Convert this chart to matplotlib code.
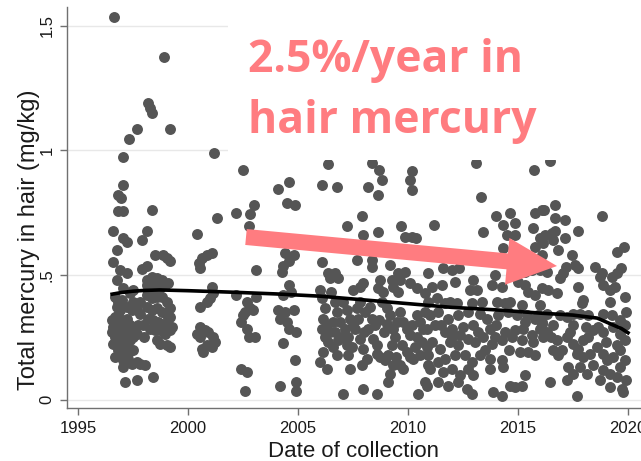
import matplotlib
matplotlib.use("Agg")
import matplotlib.pyplot as plt
from matplotlib.patches import Rectangle, FancyArrow
from matplotlib.transforms import IdentityTransform

# ------------- data (year, Hg mg/kg) -------------
pts_1996_99 = [
    (1996.64, 1.536), (1998.90, 1.375), (1998.20, 1.190), (1998.25, 1.170), (1998.35, 1.150),
    (1997.70, 1.085), (1999.20, 1.085), (1997.30, 1.045), (1997.05, 0.975), (1997.05, 0.860),
    (1996.80, 0.820), (1996.95, 0.810), (1996.80, 0.755), (1997.05, 0.755), (1998.35, 0.760),
    (1996.61, 0.675), (1997.06, 0.648), (1997.21, 0.634), (1997.89, 0.641), (1998.12, 0.675),
    (1996.76, 0.601), (1996.61, 0.554), (1996.91, 0.520), (1997.21, 0.509), (1997.89, 0.523),
    (1998.12, 0.536), (1998.50, 0.581), (1998.88, 0.581), (1999.03, 0.567), (1999.18, 0.558),
    (1996.76, 0.480), (1998.35, 0.493), (1998.58, 0.487), (1998.80, 0.480), (1999.10, 0.466),
    (1997.06, 0.446), (1997.36, 0.426), (1997.52, 0.440), (1998.12, 0.460), (1998.20, 0.426),
    (1998.42, 0.413),
    (1996.53, 0.319), (1996.68, 0.332), (1996.83, 0.339), (1996.61, 0.292), (1996.76, 0.278),
    (1996.68, 0.251), (1996.61, 0.224), (1996.76, 0.238), (1996.91, 0.265), (1996.98, 0.292),
    (1997.06, 0.312), (1997.21, 0.325), (1997.14, 0.278), (1997.29, 0.265), (1997.44, 0.278),
    (1997.59, 0.292), (1997.74, 0.298), (1997.67, 0.265), (1997.52, 0.251), (1997.36, 0.238),
    (1997.21, 0.218), (1997.06, 0.211), (1996.91, 0.218), (1996.68, 0.171), (1996.91, 0.177),
    (1997.06, 0.157), (1997.29, 0.164), (1997.44, 0.144), (1997.67, 0.151), (1997.82, 0.144),
    (1998.05, 0.137), (1997.06, 0.130), (1997.14, 0.070), (1997.67, 0.077), (1998.42, 0.090),
    (1998.12, 0.480), (1998.58, 0.466), (1998.27, 0.453), (1998.50, 0.440), (1998.73, 0.446),
    (1998.95, 0.460), (1998.12, 0.419), (1998.35, 0.406), (1998.58, 0.413), (1998.80, 0.413),
    (1999.03, 0.392), (1999.18, 0.366), (1998.12, 0.372), (1998.35, 0.359), (1998.58, 0.366),
    (1998.80, 0.352), (1999.03, 0.339), (1999.18, 0.332), (1998.20, 0.325), (1998.42, 0.319),
    (1998.65, 0.312), (1998.88, 0.305), (1999.10, 0.298), (1999.26, 0.292), (1998.27, 0.285),
    (1998.50, 0.278), (1998.73, 0.278), (1998.95, 0.265), (1999.18, 0.278), (1998.58, 0.238),
    (1998.73, 0.224), (1999.03, 0.218), (1999.18, 0.211), (1997.82, 0.345), (1997.67, 0.359),
    (1997.44, 0.359), (1997.21, 0.372), (1997.52, 0.392), (1997.82, 0.392), (1996.68, 0.413),
    (1996.83, 0.392), (1996.98, 0.399), (1996.76, 0.372), (1996.91, 0.359),
    (1996.55, 0.270), (1996.85, 0.300), (1997.00, 0.240), (1997.35, 0.300), (1997.50, 0.200),
    (1996.80, 0.200), (1997.30, 0.190), (1997.95, 0.300), (1998.00, 0.250),
]

pts_2000_05 = [
    (2001.20, 0.990), (2001.30, 0.730), (2000.40, 0.665),
    (2000.50, 0.547), (2000.62, 0.567), (2000.85, 0.581), (2001.10, 0.590), (2000.55, 0.527),
    (2001.08, 0.453), (2001.15, 0.426), (2001.00, 0.406), (2000.85, 0.392), (2000.55, 0.372),
    (2000.39, 0.265), (2000.55, 0.251), (2000.77, 0.278), (2000.92, 0.272), (2001.15, 0.251),
    (2001.23, 0.231), (2001.08, 0.211), (2000.85, 0.218), (2000.62, 0.204), (2000.70, 0.191),
    (2000.55, 0.292),
    (2002.50, 0.920), (2004.10, 0.845), (2004.60, 0.875), (2004.50, 0.790), (2004.85, 0.780),
    (2002.20, 0.750), (2002.80, 0.745), (2003.00, 0.780), (2002.75, 0.695),
    (2004.40, 0.590), (2004.80, 0.580), (2004.60, 0.555), (2004.30, 0.535), (2004.25, 0.513),
    (2003.10, 0.520), (2004.60, 0.460), (2004.70, 0.430),
    (2002.20, 0.420), (2002.70, 0.390), (2003.10, 0.410), (2002.95, 0.360), (2002.60, 0.350),
    (2002.40, 0.310), (2002.70, 0.285), (2002.75, 0.250), (2003.05, 0.250), (2002.52, 0.339),
    (2002.82, 0.366),
    (2004.30, 0.420), (2004.10, 0.360), (2004.40, 0.350), (2004.80, 0.360), (2004.20, 0.325),
    (2004.50, 0.310), (2004.60, 0.285), (2004.90, 0.270), (2004.30, 0.225), (2004.85, 0.157),
    (2002.40, 0.124), (2002.70, 0.110), (2002.60, 0.036), (2004.20, 0.056), (2004.90, 0.070),
    (2004.90, 0.036),
]

pts_2006_10 = [
    (2006.38, 0.944), (2008.35, 0.950), (2008.70, 0.923), (2010.17, 0.917), (2008.80, 0.883),
    (2010.10, 0.883), (2010.17, 0.843), (2006.08, 0.863), (2006.76, 0.852), (2008.20, 0.852),
    (2008.62, 0.822), (2007.90, 0.735), (2007.24, 0.695), (2007.97, 0.661), (2008.65, 0.672),
    (2009.70, 0.695), (2009.86, 0.654), (2010.17, 0.654), (2010.36, 0.648),
    (2006.08, 0.554), (2007.67, 0.560), (2008.35, 0.560), (2008.35, 0.534), (2009.18, 0.540),
    (2006.38, 0.507), (2006.68, 0.507), (2006.45, 0.487), (2006.80, 0.487), (2010.90, 0.507),
    (2008.73, 0.480), (2009.26, 0.480), (2009.56, 0.507), (2009.86, 0.513), (2009.64, 0.480),
    (2010.09, 0.466), (2006.00, 0.440), (2006.50, 0.433), (2007.50, 0.440), (2007.82, 0.453),
    (2007.97, 0.466), (2008.65, 0.446), (2008.88, 0.433), (2009.33, 0.453), (2009.56, 0.433),
    (2010.40, 0.446), (2010.77, 0.426),
    (2006.08, 0.406), (2006.23, 0.366), (2006.15, 0.325), (2006.08, 0.285), (2006.23, 0.251),
    (2006.38, 0.231), (2006.15, 0.191), (2006.00, 0.151), (2006.30, 0.124), (2006.68, 0.392),
    (2006.76, 0.352), (2006.61, 0.312), (2006.68, 0.272), (2006.83, 0.238), (2006.61, 0.211),
    (2006.76, 0.177), (2007.06, 0.392), (2007.21, 0.359), (2007.36, 0.325), (2007.14, 0.285),
    (2007.29, 0.251), (2007.21, 0.218), (2007.29, 0.177), (2007.36, 0.124), (2007.67, 0.366),
    (2007.82, 0.392), (2008.05, 0.352), (2007.74, 0.325), (2007.59, 0.285), (2007.82, 0.245),
    (2007.97, 0.204), (2008.12, 0.164), (2007.89, 0.137), (2008.27, 0.372), (2008.35, 0.325),
    (2008.20, 0.285), (2008.42, 0.245), (2008.50, 0.298), (2008.58, 0.184), (2008.73, 0.171),
    (2008.95, 0.157), (2008.80, 0.392), (2009.03, 0.366), (2009.18, 0.339), (2009.03, 0.305),
    (2009.33, 0.285), (2009.41, 0.251), (2009.26, 0.218), (2009.11, 0.177), (2009.33, 0.137),
    (2009.18, 0.103), (2009.11, 0.070), (2009.64, 0.352), (2009.79, 0.312), (2009.94, 0.285),
    (2010.09, 0.258), (2009.71, 0.218), (2009.94, 0.191), (2010.09, 0.171), (2009.64, 0.137),
    (2009.79, 0.124), (2010.39, 0.339), (2010.55, 0.312), (2010.70, 0.285), (2010.39, 0.251),
    (2010.62, 0.231), (2010.85, 0.211), (2010.55, 0.177), (2010.24, 0.164), (2010.92, 0.137),
    (2010.77, 0.352), (2007.06, 0.023), (2007.97, 0.043), (2008.58, 0.023), (2010.47, 0.023),
    (2010.85, 0.056),
    (2006.30, 0.300), (2006.45, 0.270), (2006.90, 0.310), (2007.00, 0.250), (2007.45, 0.210),
    (2007.50, 0.300), (2008.00, 0.270), (2008.60, 0.220), (2008.70, 0.320), (2009.50, 0.310),
    (2009.45, 0.170), (2010.20, 0.300), (2010.30, 0.210), (2008.90, 0.270),
]

pts_2011_16 = [
    (2013.07, 0.950), (2015.74, 0.923), (2013.30, 0.812), (2011.20, 0.700), (2013.42, 0.672),
    (2014.00, 0.735), (2014.33, 0.700), (2014.63, 0.749), (2014.86, 0.708), (2014.48, 0.661),
    (2014.86, 0.661), (2015.77, 0.749), (2016.07, 0.762), (2015.70, 0.688), (2016.00, 0.648),
    (2014.33, 0.610), (2015.77, 0.614), (2016.07, 0.580),
    (2011.60, 0.527), (2011.98, 0.520), (2012.30, 0.527), (2011.07, 0.453), (2011.53, 0.460),
    (2012.14, 0.473), (2012.97, 0.480), (2012.82, 0.440), (2013.12, 0.440), (2013.95, 0.500),
    (2013.80, 0.460), (2014.26, 0.453), (2015.00, 0.473), (2015.30, 0.460), (2015.47, 0.433),
    (2015.77, 0.420), (2016.07, 0.446), (2015.32, 0.513), (2015.62, 0.520),
    (2010.92, 0.392), (2011.30, 0.406), (2011.68, 0.386), (2011.91, 0.392), (2012.21, 0.386),
    (2012.89, 0.386), (2013.35, 0.392), (2014.03, 0.392), (2014.41, 0.386), (2014.63, 0.392),
    (2015.16, 0.379), (2011.00, 0.339), (2011.38, 0.352), (2011.83, 0.325), (2012.29, 0.339),
    (2012.74, 0.352), (2013.27, 0.345), (2013.57, 0.325), (2014.10, 0.339), (2014.56, 0.352),
    (2014.94, 0.339), (2015.32, 0.312), (2015.77, 0.325), (2016.07, 0.305), (2010.85, 0.285),
    (2011.23, 0.298), (2011.68, 0.272), (2011.98, 0.285), (2012.36, 0.258), (2012.97, 0.298),
    (2013.19, 0.272), (2013.72, 0.285), (2013.95, 0.251), (2014.41, 0.272), (2014.86, 0.278),
    (2015.24, 0.285), (2015.62, 0.258), (2016.00, 0.285), (2011.07, 0.231), (2011.45, 0.204),
    (2011.91, 0.231), (2012.29, 0.218), (2012.74, 0.245), (2013.04, 0.231), (2013.42, 0.251),
    (2013.80, 0.224), (2014.26, 0.238), (2014.71, 0.251), (2015.16, 0.238), (2015.47, 0.191),
    (2015.09, 0.191), (2010.92, 0.177), (2011.38, 0.151), (2011.68, 0.164), (2012.14, 0.177),
    (2012.59, 0.177), (2012.89, 0.151), (2013.27, 0.177), (2013.72, 0.164), (2014.26, 0.157),
    (2011.00, 0.124), (2011.60, 0.110), (2011.98, 0.124), (2012.36, 0.097), (2012.74, 0.124),
    (2012.97, 0.097), (2013.72, 0.124), (2010.77, 0.070), (2011.38, 0.070), (2011.83, 0.056),
    (2012.29, 0.070), (2012.66, 0.043), (2012.89, 0.023), (2013.88, 0.030), (2014.26, 0.016),
    (2014.63, 0.056), (2014.86, 0.050), (2015.16, 0.056), (2015.32, 0.097), (2014.33, 0.130),
    (2016.00, 0.379), (2015.92, 0.339), (2016.15, 0.251), (2015.70, 0.231), (2015.77, 0.177),
    (2011.50, 0.300), (2012.00, 0.250), (2012.50, 0.290), (2013.50, 0.200), (2014.00, 0.300),
    (2014.60, 0.200), (2015.40, 0.340),
]

pts_2016_20 = [
    (2016.45, 0.957), (2016.18, 0.760), (2016.68, 0.780), (2016.68, 0.730), (2017.14, 0.720),
    (2018.80, 0.735), (2016.23, 0.660), (2016.53, 0.668), (2016.68, 0.675), (2017.14, 0.648),
    (2017.74, 0.675), (2016.83, 0.600), (2017.44, 0.580), (2016.15, 0.627), (2016.60, 0.641),
    (2019.80, 0.614), (2019.50, 0.594), (2019.70, 0.527), (2019.50, 0.507), (2019.26, 0.493),
    (2018.80, 0.507), (2018.50, 0.534), (2018.73, 0.493), (2018.88, 0.460), (2019.18, 0.440),
    (2019.40, 0.453), (2019.86, 0.413), (2017.20, 0.534), (2017.60, 0.540), (2017.74, 0.527),
    (2017.06, 0.507), (2016.90, 0.487), (2016.30, 0.513), (2016.00, 0.520), (2017.74, 0.453),
    (2017.97, 0.400), (2017.90, 0.386), (2019.18, 0.392), (2016.75, 0.426), (2016.38, 0.440),
    (2016.30, 0.345), (2016.08, 0.312), (2016.30, 0.272), (2016.60, 0.298), (2016.91, 0.339),
    (2017.21, 0.332), (2017.52, 0.345), (2017.82, 0.345), (2018.20, 0.339), (2018.88, 0.345),
    (2019.26, 0.339), (2019.64, 0.319), (2019.86, 0.298), (2017.36, 0.272), (2017.21, 0.251),
    (2016.76, 0.238), (2016.60, 0.198), (2016.83, 0.177), (2017.52, 0.224), (2017.74, 0.204),
    (2017.97, 0.238), (2018.20, 0.251), (2018.42, 0.278), (2018.65, 0.292), (2018.88, 0.272),
    (2019.33, 0.292), (2019.64, 0.265), (2019.86, 0.238), (2019.64, 0.198), (2017.67, 0.184),
    (2017.97, 0.171), (2018.27, 0.184), (2018.58, 0.211), (2018.88, 0.184), (2019.03, 0.157),
    (2019.33, 0.171), (2019.64, 0.130), (2019.86, 0.157), (2017.29, 0.130), (2017.82, 0.130),
    (2018.12, 0.103), (2017.52, 0.103), (2018.88, 0.117), (2019.18, 0.103), (2019.48, 0.090),
    (2018.73, 0.077), (2017.21, 0.077), (2019.18, 0.050), (2019.71, 0.043), (2017.67, 0.016),
    (2016.45, 0.070), (2019.79, 0.030),
    (2016.50, 0.250), (2017.00, 0.200), (2017.50, 0.300), (2018.10, 0.290), (2018.40, 0.140),
    (2019.00, 0.230), (2019.50, 0.220), (2019.90, 0.350), (2019.90, 0.080),
]

# fitted trend (black line)
trend_yr = [1996.55, 1997.0, 1997.5, 1998.0, 1998.7, 2000.0, 2002.0, 2004.0, 2006.0, 2008.0,
            2010.0, 2012.0, 2014.0, 2016.0, 2017.5, 2018.6, 2019.3, 2019.7, 2020.0]
trend_hg = [0.423, 0.430, 0.435, 0.438, 0.440, 0.437, 0.431, 0.424, 0.415, 0.400,
            0.385, 0.370, 0.360, 0.347, 0.339, 0.327, 0.300, 0.285, 0.268]

year_ticks = [1995, 2000, 2005, 2010, 2015, 2020]
hg_ticks = [0, 0.5, 1, 1.5]
hg_tick_labels = ["0", ".5", "1", "1.5"]

note_lines = ["2.5%/year in", "hair mercury"]
note_color = "#FF7C80"
dot_color = "#555555"

plt.rcParams["font.family"] = ["Liberation Sans", "DejaVu Sans"]

W, H = 641, 461
fig = plt.figure(figsize=(W / 100, H / 100), dpi=100)
ax = fig.add_axes([67 / W, (H - 408) / H, (W - 67) / W, (408 - 7) / H])

all_pts = pts_1996_99 + pts_2000_05 + pts_2006_10 + pts_2011_16 + pts_2016_20
xs = [p[0] for p in all_pts]
ys = [p[1] for p in all_pts]
ax.scatter(xs, ys, s=62, color=dot_color, linewidths=0, zorder=2)
ax.plot(trend_yr, trend_hg, color="black", lw=2.6, zorder=3)

ax.set_xlim(1994.5, 2020.59)
ax.set_ylim(-0.034, 1.576)
ax.set_xticks(year_ticks)
ax.set_yticks(hg_ticks)
ax.set_yticklabels(hg_tick_labels)
ax.yaxis.grid(True, color="#e8e8e8", lw=1)
ax.set_axisbelow(True)

for s in ["top", "right"]:
    ax.spines[s].set_visible(False)
for s in ["left", "bottom"]:
    ax.spines[s].set_color("#707070")
    ax.spines[s].set_linewidth(1)

ax.tick_params(axis="both", length=5, width=1, color="#707070", labelsize=12,
               labelcolor="#1a1a1a", pad=4)
for lbl in ax.get_yticklabels():
    lbl.set_rotation(90)
    lbl.set_va("center")

# axis titles
fig.text(353 / W, 1 - 457 / H, "Date of collection", ha="center", va="baseline",
         fontsize=16, color="#1a1a1a")
fig.text(35 / W, 1 - 240 / H, "Total mercury in hair (mg/kg)", rotation=90,
         rotation_mode="anchor", ha="center", va="baseline", fontsize=17, color="#1a1a1a")

# white box behind the annotation text
fig.add_artist(Rectangle((228, H - 160), W - 228, 160, transform=IdentityTransform(),
                         facecolor="white", edgecolor="none", zorder=5))

# annotation
fig.text(248 / W, 1 - 72 / H, note_lines[0], fontfamily="Open Sans", fontweight="bold",
         fontsize=32, color=note_color, va="baseline", zorder=7)
fig.text(248 / W, 1 - 133 / H, note_lines[1], fontfamily="Open Sans", fontweight="bold",
         fontsize=32, color=note_color, va="baseline", zorder=7)

arrow = FancyArrow(246, H - 237, 557 - 246, -(266 - 237), width=16, head_width=47,
                   head_length=50, length_includes_head=True, transform=IdentityTransform(),
                   facecolor=note_color, edgecolor="none", zorder=6)
fig.add_artist(arrow)

fig.savefig("out.png", dpi=100)
